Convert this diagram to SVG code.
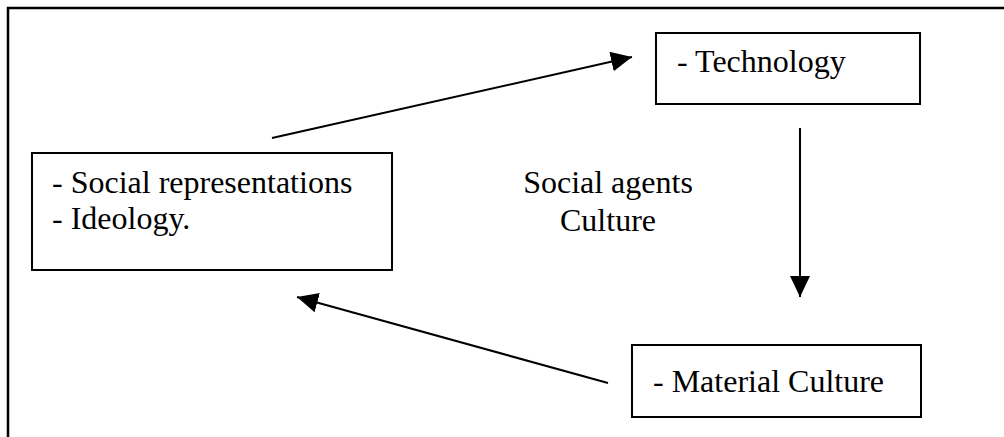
<svg xmlns="http://www.w3.org/2000/svg" width="1004" height="437" viewBox="0 0 1004 437">
  <style>
    .box { fill: #fff; stroke: #000; stroke-width: 2; }
    .t { font-family: "Liberation Serif", "Times New Roman", serif; font-size: 32px; fill: #000; }
    .c { stroke: #000; stroke-width: 2; fill: none; marker-end: url(#ah); }
  </style>
  <defs>
    <marker id="ah" markerUnits="userSpaceOnUse" markerWidth="22" markerHeight="22" refX="21" refY="10" orient="auto" viewBox="0 0 22 22">
      <path d="M0,0 L21,10 L0,20 z" fill="#000"/>
    </marker>
  </defs>
  <rect width="1004" height="437" fill="#fff"/>
  <path d="M8,437 L8,8 L1004,8" fill="none" stroke="#000" stroke-width="2.5"/>
  <g id="connectors">
    <line class="c" x1="272" y1="138" x2="632" y2="57"/>
    <line class="c" x1="800" y1="128" x2="800" y2="297"/>
    <line class="c" x1="608" y1="383" x2="297" y2="297"/>
  </g>
  <g id="social">
    <rect class="box" x="32" y="153" width="360" height="117"/>
    <text class="t" x="52" y="193">- Social representations</text>
    <text class="t" x="52" y="229">- Ideology.</text>
  </g>
  <g id="technology">
    <rect class="box" x="656" y="33" width="264" height="71"/>
    <text class="t" x="677" y="72">- Technology</text>
  </g>
  <g id="material">
    <rect class="box" x="632" y="345" width="289" height="72"/>
    <text class="t" x="653" y="392">- Material Culture</text>
  </g>
  <g id="center">
    <text class="t" x="608" y="193" text-anchor="middle">Social agents</text>
    <text class="t" x="608" y="231" text-anchor="middle">Culture</text>
  </g>
</svg>
